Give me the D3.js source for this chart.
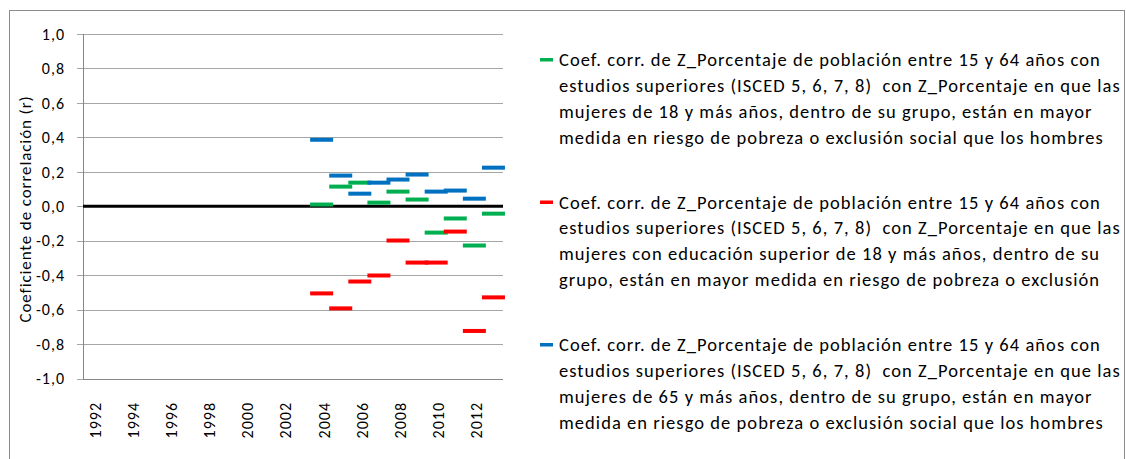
<!DOCTYPE html>
<html>
<head>
<meta charset="utf-8">
<style>
body { margin: 0; background: #fff; }
text { font-family: Calibri, Carlito, Lato, "Open Sans", sans-serif; fill: #000; }
.grid line { stroke: #a6a6a6; stroke-width: 1px; shape-rendering: crispEdges; }
.legend text { white-space: pre; }
</style>
</head>
<body>
<svg width="1126" height="459"></svg>
<script src="https://cdnjs.cloudflare.com/ajax/libs/d3/7.8.5/d3.min.js"></script>
<script>
// years on the category axis
var years = [1992, 1993, 1994, 1995, 1996, 1997, 1998, 1999, 2000, 2001, 2002,
             2003, 2004, 2005, 2006, 2007, 2008, 2009, 2010, 2011, 2012, 2013];
var yTicks = [1.0, 0.8, 0.6, 0.4, 0.2, 0.0, -0.2, -0.4, -0.6, -0.8, -1.0];

// series values (null = no data)
var greenVals = [null, null, null, null, null, null, null, null, null, null, null, null,
                 0.01, 0.114, 0.137, 0.021, 0.085, 0.039, -0.153, -0.071, -0.228, -0.043];
var redVals = [null, null, null, null, null, null, null, null, null, null, null, null,
               -0.506, -0.593, -0.437, -0.402, -0.199, -0.327, -0.327, -0.147, -0.724, -0.529];
var blueVals = [null, null, null, null, null, null, null, null, null, null, null, null,
                0.386, 0.178, 0.073, 0.137, 0.155, 0.184, 0.085, 0.091, 0.044, 0.224];

var legendLines = [
  ["Coef. corr. de Z_Porcentaje de población entre 15 y 64 años con",
   "estudios superiores (ISCED 5, 6, 7, 8)  con Z_Porcentaje en que las",
   "mujeres de 18 y más años, dentro de su grupo, están en mayor",
   "medida en riesgo de pobreza o exclusión social que los hombres"],
  ["Coef. corr. de Z_Porcentaje de población entre 15 y 64 años con",
   "estudios superiores (ISCED 5, 6, 7, 8)  con Z_Porcentaje en que las",
   "mujeres con educación superior de 18 y más años, dentro de su",
   "grupo, están en mayor medida en riesgo de pobreza o exclusión"],
  ["Coef. corr. de Z_Porcentaje de población entre 15 y 64 años con",
   "estudios superiores (ISCED 5, 6, 7, 8)  con Z_Porcentaje en que las",
   "mujeres de 65 y más años, dentro de su grupo, están en mayor",
   "medida en riesgo de pobreza o exclusión social que los hombres"]
];

var series = [
  { vals: greenVals, color: "#00b050" },
  { vals: redVals, color: "#ff0000" },
  { vals: blueVals, color: "#0070c0" }
];

var svg = d3.select("svg");

// outer chart border
svg.append("rect")
  .attr("x", 9.5).attr("y", 10.5).attr("width", 1115).attr("height", 470)
  .attr("fill", "none").attr("stroke", "#8c8c8c");

var plotL = 83, plotR = 503, plotT = 34, plotB = 378.5;

var x = d3.scaleBand().domain(years).range([plotL, plotR]);
var y = d3.scaleLinear().domain([-1, 1]).range([plotB, plotT]);

// gridlines + tick marks
svg.append("g").attr("class", "grid")
  .selectAll("line").data(yTicks).enter().append("line")
  .attr("x1", plotL - 6).attr("x2", plotR)
  .attr("y1", function(d) { return Math.round(y(d)) + 0.5; })
  .attr("y2", function(d) { return Math.round(y(d)) + 0.5; });

// axis lines
svg.append("line").attr("x1", plotL + 0.5).attr("x2", plotL + 0.5)
  .attr("y1", plotT).attr("y2", plotB + 1).attr("stroke", "#868686");
svg.append("line").attr("x1", plotL).attr("x2", plotR)
  .attr("y1", Math.round(plotB) + 0.5).attr("y2", Math.round(plotB) + 0.5).attr("stroke", "#868686");

// zero line
svg.append("line").attr("x1", plotL).attr("x2", plotR)
  .attr("y1", y(0)).attr("y2", y(0)).attr("stroke", "#000").attr("stroke-width", 3);

// y tick labels
svg.append("g").selectAll("text").data(yTicks).enter().append("text")
  .attr("x", 65).attr("y", function(d) { return y(d); })
  .attr("dy", "0.36em").attr("text-anchor", "end")
  .style("font-size", "16px").style("letter-spacing", "1px")
  .text(function(d) { return d3.format(".1f")(d).replace(".", ",").replace("−", "-"); });

// x tick labels (every other year)
svg.append("g").selectAll("text")
  .data(years.filter(function(d, i) { return i % 2 === 0; }))
  .enter().append("text")
  .attr("transform", function(d) {
    return "translate(" + (x(d) + x.bandwidth() / 2 + 8) + ",402) rotate(-90)";
  })
  .attr("text-anchor", "end")
  .style("font-size", "16px").style("letter-spacing", "1px")
  .text(function(d) { return d; });

// y axis title
svg.append("text")
  .attr("transform", "translate(31,209) rotate(-90)")
  .attr("text-anchor", "middle")
  .style("font-size", "17px").style("letter-spacing", "0.9px")
  .text("Coeficiente de correlación (r)");

// dash markers
var mw = 23, mh = 4;
series.forEach(function(s) {
  svg.append("g").selectAll("rect")
    .data(years.map(function(yr, i) { return { year: yr, v: s.vals[i] }; })
      .filter(function(d) { return d.v !== null; }))
    .enter().append("rect")
    .attr("x", function(d) { return x(d.year) + x.bandwidth() / 2 - mw / 2; })
    .attr("y", function(d) { return y(d.v) - mh / 2; })
    .attr("width", mw).attr("height", mh)
    .attr("fill", s.color);
});

// legend
var legendTop = [59.5, 202, 344.5];
series.forEach(function(s, k) {
  var g = svg.append("g").attr("class", "legend");
  g.append("rect").attr("x", 540).attr("y", legendTop[k] - 1.5)
    .attr("width", 13).attr("height", 3.5).attr("fill", s.color);
  legendLines[k].forEach(function(line, j) {
    g.append("text")
      .attr("x", 559).attr("y", legendTop[k] + j * 25.8)
      .attr("dy", "0.36em")
      .style("font-size", "18.5px").style("letter-spacing", "1.05px")
      .text(line);
  });
});
</script>
</body>
</html>
